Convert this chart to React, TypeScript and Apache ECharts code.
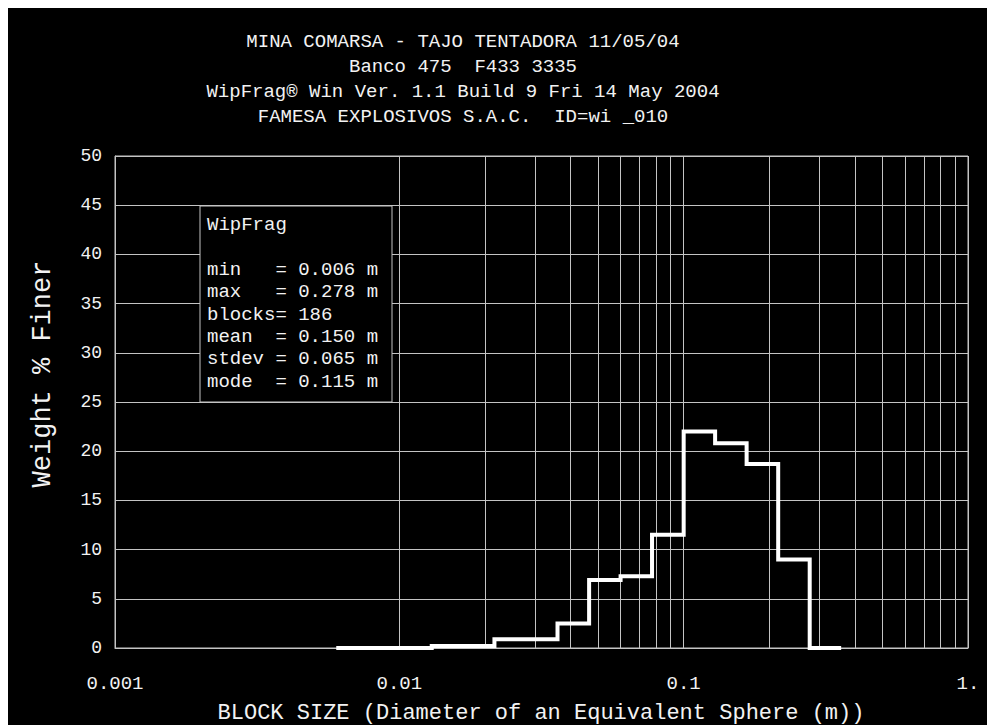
import React, { useEffect, useRef } from "react";
import * as echarts from "echarts";

// ---------- data ----------
const TITLE_LINES = [
  "MINA COMARSA - TAJO TENTADORA 11/05/04",
  "Banco 475  F433 3335",
  "WipFrag\u00ae Win Ver. 1.1 Build 9 Fri 14 May 2004",
  "FAMESA EXPLOSIVOS S.A.C.  ID=wi _010",
];

// histogram bin edges (m) and weight % in each bin
const BIN_EDGES = [
  0.006, 0.0078, 0.0101, 0.013, 0.0168, 0.0216, 0.0279, 0.036, 0.0465, 0.06,
  0.0774, 0.1, 0.129, 0.1665, 0.215, 0.2775, 0.358,
];
const BIN_VALUES = [
  0, 0, 0, 0.2, 0.2, 0.9, 0.9, 2.5, 6.9, 7.3, 11.5, 22.0, 20.8, 18.7, 9.0, 0,
];

const X_TICKS = [0.001, 0.01, 0.1, 1];
const X_TICK_LABELS = ["0.001", "0.01", "0.1", "1."];
const Y_MIN = 0;
const Y_MAX = 50;
const Y_STEP = 5;

const LEGEND_TITLE = "WipFrag";
const LEGEND_LINES = [
  "min   = 0.006 m",
  "max   = 0.278 m",
  "blocks= 186",
  "mean  = 0.150 m",
  "stdev = 0.065 m",
  "mode  = 0.115 m",
];

const X_TITLE = "BLOCK SIZE (Diameter of an Equivalent Sphere (m))";
const Y_TITLE = "Weight % Finer";

// ---------- style ----------
const FONT = "'Liberation Mono', 'Courier New', monospace";
const TEXT = "#f2f2f2";
const GRID = "#c4c4c4";

export default function App() {
  const ref = useRef<HTMLDivElement>(null);

  useEffect(() => {
    if (!ref.current) return;
    const chart = echarts.init(ref.current, undefined, { renderer: "svg" });

    const stepData = BIN_EDGES.map((e, i) => [
      e,
      BIN_VALUES[Math.min(i, BIN_VALUES.length - 1)],
    ]);

    // minor log gridlines 2..9 in each decade
    const minor: any[] = [];
    for (let d = 0; d < X_TICKS.length - 1; d++) {
      for (let k = 2; k <= 9; k++) {
        minor.push({ xAxis: +(X_TICKS[d] * k).toPrecision(3) });
      }
    }

    const graphics: any[] = [];
    TITLE_LINES.forEach((t, i) => {
      graphics.push({
        type: "text",
        x: 455,
        y: 34 + i * 25,
        z: 100,
        style: {
          text: t,
          fill: TEXT,
          font: `19px ${FONT}`,
          textAlign: "center",
          textVerticalAlign: "middle",
        },
      });
    });
    // legend box
    graphics.push({
      type: "rect",
      z: 100,
      shape: { x: 192, y: 198, width: 192, height: 196 },
      style: { fill: "#000", stroke: GRID, lineWidth: 1 },
    });
    graphics.push({
      type: "text",
      x: 199,
      y: 217,
      z: 101,
      style: {
        text: LEGEND_TITLE,
        fill: TEXT,
        font: `19px ${FONT}`,
        textVerticalAlign: "middle",
      },
    });
    LEGEND_LINES.forEach((t, i) => {
      graphics.push({
        type: "text",
        x: 199,
        y: 262 + i * 22.3,
        z: 101,
        style: {
          text: t,
          fill: TEXT,
          font: `19px ${FONT}`,
          textVerticalAlign: "middle",
        },
      });
    });
    // axis titles
    graphics.push({
      type: "text",
      x: 533,
      y: 705,
      z: 100,
      style: {
        text: X_TITLE,
        fill: TEXT,
        font: `22px ${FONT}`,
        textAlign: "center",
        textVerticalAlign: "middle",
      },
    });
    graphics.push({
      type: "text",
      x: 35,
      y: 366,
      rotation: Math.PI / 2,
      z: 100,
      style: {
        text: Y_TITLE,
        fill: TEXT,
        font: `27px ${FONT}`,
        textAlign: "center",
        textVerticalAlign: "middle",
      },
    });

    chart.setOption({
      animation: false,
      backgroundColor: "#000",
      grid: {
        left: 107,
        top: 148,
        right: 19,
        bottom: 77,
        show: true,
        borderColor: GRID,
        borderWidth: 1,
      },
      xAxis: {
        type: "log",
        logBase: 10,
        min: X_TICKS[0],
        max: X_TICKS[X_TICKS.length - 1],
        axisLine: { show: true, lineStyle: { color: GRID, width: 1 } },
        axisTick: { show: false },
        splitLine: { show: true, lineStyle: { color: GRID, width: 1 } },
        axisLabel: {
          color: TEXT,
          fontFamily: FONT,
          fontSize: 19,
          margin: 26,
          formatter: (v: number) => {
            const i = X_TICKS.findIndex(
              (t) => Math.abs(Math.log10(t) - Math.log10(v)) < 1e-6
            );
            return i >= 0 ? X_TICK_LABELS[i] : "";
          },
        },
      },
      yAxis: {
        type: "value",
        min: Y_MIN,
        max: Y_MAX,
        interval: Y_STEP,
        axisLine: { show: true, lineStyle: { color: GRID, width: 1 } },
        axisTick: { show: false },
        splitLine: { show: true, lineStyle: { color: GRID, width: 1 } },
        axisLabel: {
          color: TEXT,
          fontFamily: FONT,
          fontSize: 18,
          margin: 13,
        },
      },
      graphic: graphics,
      series: [
        {
          type: "line",
          data: [],
          z: 1,
          silent: true,
          markLine: {
            silent: true,
            symbol: ["none", "none"],
            label: { show: false },
            lineStyle: { color: GRID, width: 1, type: "solid" },
            data: minor,
          },
        },
        {
          type: "line",
          data: stepData,
          step: "end",
          z: 5,
          clip: false,
          showSymbol: false,
          symbol: "none",
          lineStyle: { color: "#ffffff", width: 4, cap: "butt", join: "miter" },
        },
      ],
    });

    return () => chart.dispose();
  }, []);

  return (
    <div
      ref={ref}
      style={{
        position: "absolute",
        left: 8,
        top: 8,
        width: 979,
        height: 717,
        background: "#000",
      }}
    />
  );
}
